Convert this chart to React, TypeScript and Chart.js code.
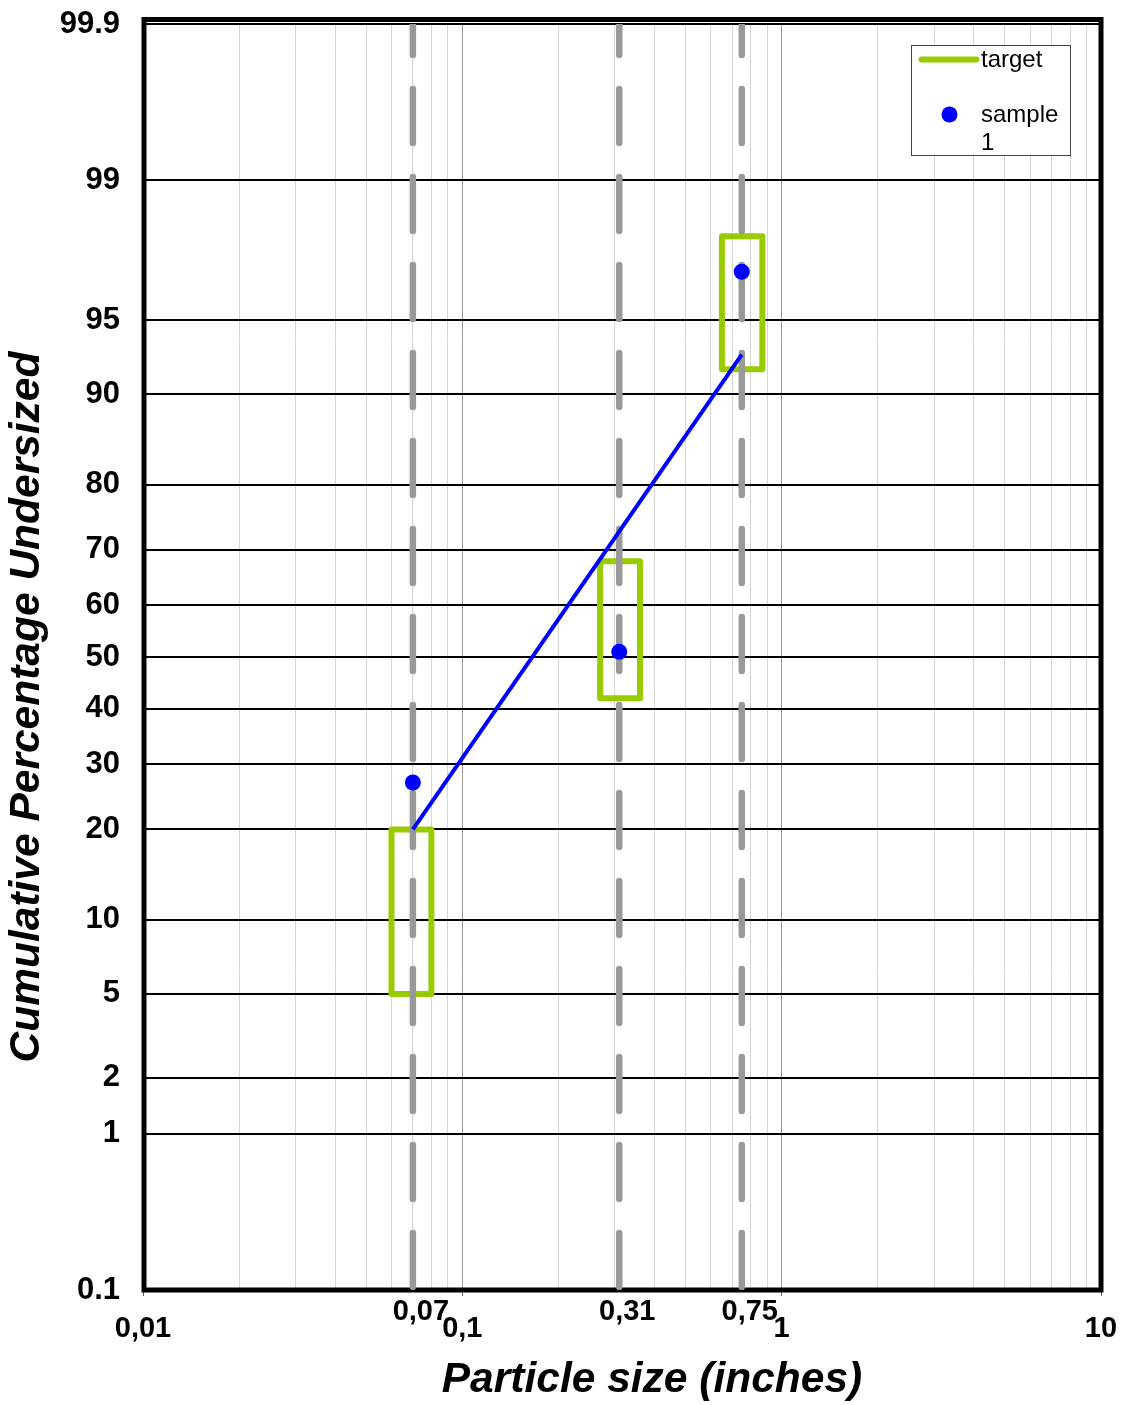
import React, { useEffect, useRef } from 'react';
import { Chart, Scale, registerables } from 'chart.js';

const FONT = '"Liberation Sans", Arial, Helvetica, sans-serif';

// ---------- data ----------
const Y_TICKS = [0.1, 1, 2, 5, 10, 20, 30, 40, 50, 60, 70, 80, 90, 95, 99, 99.9];
const X_MAJOR_TICKS = [0.01, 0.1, 1, 10];
const X_MAJOR_LABELS = ['0,01', '0,1', '1', '10'];
const SIEVE_SIZES = [0.07, 0.31, 0.75];
const SIEVE_LABELS = ['0,07', '0,31', '0,75'];
const SAMPLE_1 = [27, 51, 97];
const TARGET_X_MIN = [0.06, 0.27, 0.65];
const TARGET_X_MAX = [0.08, 0.36, 0.87];
const TARGET_LOW = [5, 42, 92];
const TARGET_HIGH = [20, 68, 98];
const FIT_X = [0.07, 0.75];
const FIT_Y = [20, 93];
const X_TITLE = 'Particle size (inches)';
const Y_TITLE = 'Cumulative Percentage Undersized';
const TARGET_LABEL = 'target';
const SAMPLE_LABEL = 'sample 1';

// ---------- normal probability helpers ----------
function probit(p: number): number {
  const a = [-3.969683028665376e1, 2.209460984245205e2, -2.759285104469687e2, 1.38357751867269e2, -3.066479806614716e1, 2.506628277459239];
  const b = [-5.447609879822406e1, 1.615858368580409e2, -1.556989798598866e2, 6.680131188771972e1, -1.328068155288572e1];
  const c = [-7.784894002430293e-3, -3.223964580411365e-1, -2.400758277161838, -2.549732539343734, 4.374664141464968, 2.938163982698783];
  const d = [7.784695709041462e-3, 3.224671290700398e-1, 2.445134137142996, 3.754408661907416];
  const pl = 0.02425;
  const ph = 1 - pl;
  if (p < pl) {
    const q = Math.sqrt(-2 * Math.log(p));
    return (((((c[0] * q + c[1]) * q + c[2]) * q + c[3]) * q + c[4]) * q + c[5]) / ((((d[0] * q + d[1]) * q + d[2]) * q + d[3]) * q + 1);
  }
  if (p <= ph) {
    const q = p - 0.5;
    const r = q * q;
    return ((((((a[0] * r + a[1]) * r + a[2]) * r + a[3]) * r + a[4]) * r + a[5]) * q) / (((((b[0] * r + b[1]) * r + b[2]) * r + b[3]) * r + b[4]) * r + 1);
  }
  const q = Math.sqrt(-2 * Math.log(1 - p));
  return -(((((c[0] * q + c[1]) * q + c[2]) * q + c[3]) * q + c[4]) * q + c[5]) / ((((d[0] * q + d[1]) * q + d[2]) * q + d[3]) * q + 1);
}

function normCdf(z: number): number {
  const t = 1 / (1 + 0.3275911 * Math.abs(z) / Math.SQRT2);
  const y = 1 - (((((1.061405429 * t - 1.453152027) * t) + 1.421413741) * t - 0.284496736) * t + 0.254829592) * t * Math.exp(-(z * z) / 2);
  return z >= 0 ? 0.5 * (1 + y) : 0.5 * (1 - y);
}

class ProbitScale extends Scale {
  static id = 'probit';
  static defaults = {};
  _zStart = 0;
  _zEnd = 1;

  parse(raw: any) {
    const v = +raw;
    return Number.isFinite(v) ? v : null;
  }
  determineDataLimits() {
    const { min, max } = (this as any).getMinMax(true);
    const o = this.options as any;
    (this as any).min = Number.isFinite(o.min) ? o.min : min;
    (this as any).max = Number.isFinite(o.max) ? o.max : max;
  }
  buildTicks() {
    const s = this as any;
    return Y_TICKS.filter((v) => v >= s.min && v <= s.max).map((value) => ({ value }));
  }
  configure() {
    super.configure();
    const s = this as any;
    this._zStart = probit(s.min / 100);
    this._zEnd = probit(s.max / 100);
  }
  getLabelForValue(v: number) {
    return String(v);
  }
  getPixelForValue(v: number) {
    if (v === undefined || v === null || isNaN(v)) return NaN;
    const z = probit(v / 100);
    return (this as any).getPixelForDecimal((z - this._zStart) / (this._zEnd - this._zStart));
  }
  getValueForPixel(p: number) {
    const dec = (this as any).getDecimalForPixel(p);
    return 100 * normCdf(this._zStart + dec * (this._zEnd - this._zStart));
  }
}

Chart.register(...registerables, ProbitScale as any);

function buildXTicks() {
  const ticks: { value: number; major: boolean }[] = [];
  for (let i = 0; i < X_MAJOR_TICKS.length - 1; i++) {
    const m = X_MAJOR_TICKS[i];
    ticks.push({ value: m, major: true });
    for (let k = 2; k <= 9; k++) ticks.push({ value: +(m * k).toPrecision(6), major: false });
  }
  ticks.push({ value: X_MAJOR_TICKS[X_MAJOR_TICKS.length - 1], major: true });
  return ticks;
}

function zeroPad(s: any) {
  s.paddingTop = 0;
  s.paddingBottom = 0;
  s.paddingLeft = 0;
  s.paddingRight = 0;
}

const framePlugin = {
  id: 'frame',
  beforeDatasetsDraw(chart: any) {
    const { ctx, chartArea } = chart;
    ctx.save();
    ctx.strokeStyle = '#000';
    ctx.lineWidth = 5;
    ctx.lineJoin = 'miter';
    ctx.strokeRect(chartArea.left + 1, chartArea.top - 4.5, chartArea.right - chartArea.left - 1, chartArea.bottom - chartArea.top + 4.5);
    ctx.restore();
  },
};

function wrap(ctx: CanvasRenderingContext2D, text: string, maxW: number) {
  const words = text.split(' ');
  const lines: string[] = [];
  let cur = '';
  for (const w of words) {
    const t = cur ? cur + ' ' + w : w;
    if (cur && ctx.measureText(t).width > maxW) {
      lines.push(cur);
      cur = w;
    } else cur = t;
  }
  if (cur) lines.push(cur);
  return lines;
}

const annotPlugin = {
  id: 'annot',
  afterDraw(chart: any) {
    const { ctx, chartArea } = chart;
    const xs = chart.scales.x;
    ctx.save();
    // sieve size labels
    ctx.fillStyle = '#000';
    ctx.font = `bold 29px ${FONT}`;
    ctx.textAlign = 'center';
    ctx.textBaseline = 'middle';
    SIEVE_SIZES.forEach((v, i) => {
      ctx.fillText(SIEVE_LABELS[i], xs.getPixelForValue(v) + 8, chartArea.bottom + 22);
    });
    // axis titles
    ctx.font = `italic bold 42.5px ${FONT}`;
    ctx.textBaseline = 'alphabetic';
    ctx.fillText(X_TITLE, 652, 1392);
    ctx.save();
    ctx.translate(27, 707);
    ctx.rotate(-Math.PI / 2);
    ctx.textBaseline = 'middle';
    ctx.fillText(Y_TITLE, 0, 0);
    ctx.restore();

    // legend box
    const x0 = chartArea.right - 190 + 0.5;
    const y0 = chartArea.top + 21 + 0.5;
    ctx.fillStyle = '#fff';
    ctx.fillRect(x0, y0, 159, 110);
    ctx.strokeStyle = '#404040';
    ctx.lineWidth = 1;
    ctx.strokeRect(x0, y0, 159, 110);
    ctx.strokeStyle = '#99cc00';
    ctx.lineWidth = 6;
    ctx.lineCap = 'round';
    ctx.beginPath();
    ctx.moveTo(x0 + 10, y0 + 14);
    ctx.lineTo(x0 + 65, y0 + 14);
    ctx.stroke();
    ctx.fillStyle = '#0000ff';
    ctx.beginPath();
    ctx.arc(x0 + 38, y0 + 69, 8, 0, Math.PI * 2);
    ctx.fill();
    ctx.fillStyle = '#000';
    ctx.font = `24px ${FONT}`;
    ctx.textAlign = 'left';
    ctx.textBaseline = 'alphabetic';
    ctx.fillText(TARGET_LABEL, x0 + 69.5, y0 + 21.5);
    const lines = wrap(ctx, SAMPLE_LABEL, 86);
    lines.forEach((ln, i) => ctx.fillText(ln, x0 + 69.5, y0 + 76.5 + i * 27.5));
    ctx.restore();
  },
};

export default function App() {
  const ref = useRef<HTMLCanvasElement>(null);
  useEffect(() => {
    document.body.style.margin = '0';
    const xTicks = buildXTicks();

    const targetSets = SIEVE_SIZES.map((_, i) => ({
      label: TARGET_LABEL,
      data: [
        { x: TARGET_X_MIN[i], y: TARGET_LOW[i] },
        { x: TARGET_X_MAX[i], y: TARGET_LOW[i] },
        { x: TARGET_X_MAX[i], y: TARGET_HIGH[i] },
        { x: TARGET_X_MIN[i], y: TARGET_HIGH[i] },
        { x: TARGET_X_MIN[i], y: TARGET_LOW[i] },
      ],
      showLine: true,
      borderColor: '#99cc00',
      borderWidth: 6,
      borderJoinStyle: 'round',
      borderCapStyle: 'round',
      pointRadius: 0,
      tension: 0,
      order: 3,
    }));

    const sieveSets = SIEVE_SIZES.map((v) => ({
      label: 'sieve',
      data: [
        { x: v, y: Y_TICKS[Y_TICKS.length - 1] },
        { x: v, y: Y_TICKS[0] },
      ],
      showLine: true,
      borderColor: '#999999',
      borderWidth: 6.5,
      borderDash: [54, 34],
      borderDashOffset: 23,
      borderCapStyle: 'round',
      pointRadius: 0,
      order: 2,
    }));

    const fitSet = {
      label: 'fit',
      data: FIT_X.map((x, i) => ({ x, y: FIT_Y[i] })),
      showLine: true,
      borderColor: '#0000ff',
      borderWidth: 4,
      pointRadius: 0,
      order: 1,
    };

    const sampleSet = {
      label: SAMPLE_LABEL,
      data: SIEVE_SIZES.map((x, i) => ({ x, y: SAMPLE_1[i] })),
      showLine: false,
      pointRadius: 8,
      pointBackgroundColor: '#0000ff',
      pointBorderWidth: 0,
      order: 0,
    };

    const chart = new Chart(ref.current as HTMLCanvasElement, {
      type: 'scatter',
      data: { datasets: [sampleSet, fitSet, ...sieveSets, ...targetSets] as any },
      options: {
        responsive: false,
        animation: false,
        events: [],
        layout: { padding: { top: 24, right: 23, bottom: 0, left: 0 } },
        plugins: { legend: { display: false }, tooltip: { enabled: false }, title: { display: false } },
        scales: {
          x: {
            type: 'logarithmic',
            min: X_MAJOR_TICKS[0],
            max: X_MAJOR_TICKS[X_MAJOR_TICKS.length - 1],
            afterBuildTicks: (s: any) => {
              s.ticks = xTicks.map((t) => ({ ...t }));
            },
            afterFit: (s: any) => {
              s.height = 115;
              zeroPad(s);
            },
            border: { display: false },
            grid: {
              color: (c: any) => (c.tick && c.tick.major ? '#9a9a9a' : '#d6d6d6'),
              lineWidth: 1,
              drawTicks: true,
              tickLength: 6,
              tickColor: (c: any) => (c.tick && c.tick.major ? '#606060' : 'rgba(0,0,0,0)'),
            },
            ticks: {
              autoSkip: false,
              maxRotation: 0,
              minRotation: 0,
              padding: 16,
              color: '#000',
              font: { family: FONT, size: 29, weight: 'bold' },
              callback: (v: any) => {
                const i = X_MAJOR_TICKS.indexOf(Number(v));
                return i >= 0 ? X_MAJOR_LABELS[i] : '';
              },
            },
          },
          y: {
            type: 'probit' as any,
            min: Y_TICKS[0],
            max: Y_TICKS[Y_TICKS.length - 1],
            afterFit: (s: any) => {
              s.width = 143;
              zeroPad(s);
            },
            border: { display: false },
            grid: { color: '#000', lineWidth: 2, drawTicks: false },
            ticks: {
              autoSkip: false,
              padding: 23,
              color: '#000',
              font: { family: FONT, size: 31, weight: 'bold' },
            },
          } as any,
        },
      } as any,
      plugins: [framePlugin, annotPlugin],
    });
    return () => chart.destroy();
  }, []);

  return (
    <div style={{ width: 1124, height: 1405 }}>
      <canvas ref={ref} width={1124} height={1405} style={{ display: 'block', width: 1124, height: 1405 }} />
    </div>
  );
}
